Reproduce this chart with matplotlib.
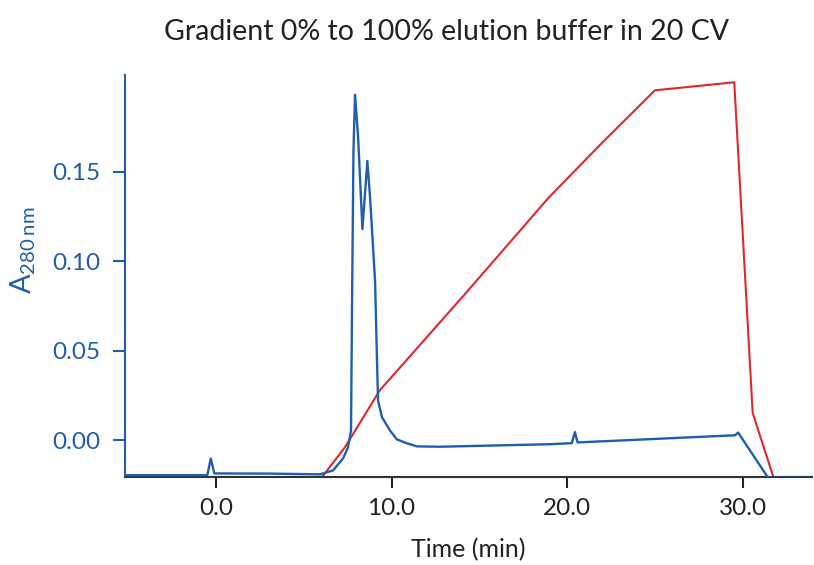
import numpy as np
import matplotlib
matplotlib.use("Agg")
import matplotlib.pyplot as plt

plt.rcParams['font.family'] = ['Lato', 'DejaVu Sans']
plt.rcParams['mathtext.fontset'] = 'custom'
plt.rcParams['mathtext.rm'] = 'Lato'

# UV absorbance trace (A280)
uv_time = [-5.2, -0.5, -0.3, -0.1, 3.0, 5.93, 6.67, 7.24, 7.52, 7.69, 7.75, 7.83,
           7.92, 8.09, 8.34, 8.62, 8.78, 9.06, 9.17, 9.23, 9.46, 9.91, 10.3, 10.88,
           11.45, 12.76, 19.0, 20.27, 20.45, 20.6, 29.57, 29.75, 31.45, 34.0]
uv_abs = [-0.0195, -0.0195, -0.0102, -0.0185, -0.0186, -0.0190, -0.0168, -0.0101,
          -0.0039, 0.0056, 0.078, 0.162, 0.193, 0.17, 0.118, 0.156, 0.135, 0.089,
          0.045, 0.022, 0.0128, 0.0055, 0.0005, -0.0017, -0.0034, -0.0036, -0.0022,
          -0.0016, 0.0046, -0.0012, 0.0028, 0.0043, -0.0208, -0.021]

# Gradient (% elution buffer)
grad_time = [-5.2, 6.04, 7.35, 9.34, 14.13, 18.92, 22.0, 25.01, 29.53, 30.58, 31.76, 34.0]
grad_pct = [0, 0, 7.8, 22.7, 47.5, 72.8, 87.3, 101.0, 103.1, 16.7, 0, 0]

xticks = [0, 10, 20, 30]
yticks = [0.00, 0.05, 0.10, 0.15]

blue = '#1f5fae'
red = '#e3262c'

fig = plt.figure(figsize=(8.14, 5.65), dpi=100)
ax = fig.add_axes([125/814, 1-477/565, 687/814, 402/565])
ax2 = ax.twinx()

ax2.plot(grad_time, grad_pct, color=red, lw=1.5, zorder=2)
ax2.set_ylim(0, 105)
ax2.axis('off')

ax.plot(uv_time, uv_abs, color=blue, lw=1.7, zorder=3)
ax.set_zorder(ax2.get_zorder() + 1)
ax.patch.set_visible(False)

ax.set_xlim(-5.19, 33.96)
ax.set_ylim(-0.0205, 0.204)
ax.set_xticks(xticks)
ax.set_xticklabels([f'{v:.1f}' for v in xticks])
ax.set_yticks(yticks)
ax.set_yticklabels([f'{v:.2f}' for v in yticks])

for s in ['top', 'right']:
    ax.spines[s].set_visible(False)
ax.spines['left'].set_color(blue)
ax.spines['left'].set_linewidth(1.5)
ax.spines['bottom'].set_color('#333333')
ax.spines['bottom'].set_linewidth(1.5)

ax.tick_params(axis='y', colors=blue, labelsize=17.5, length=8.5, width=1.5, pad=9)
ax.tick_params(axis='x', colors='#222222', labelsize=17.5, length=8, width=1.5, pad=7)

ax.set_xlabel('Time (min)', fontsize=18, color='#222222', labelpad=14)
fig.text(23/814, 1-250/565, r'A$_{\mathrm{280\,nm}}$', rotation=90,
         ha='center', va='center', fontsize=21, color=blue)

fig.text(447/814, 1-32/565, 'Gradient 0% to 100% elution buffer in 20 CV',
         ha='center', va='center', fontsize=20.5, color='#222222')

fig.savefig('out.png', dpi=100)
